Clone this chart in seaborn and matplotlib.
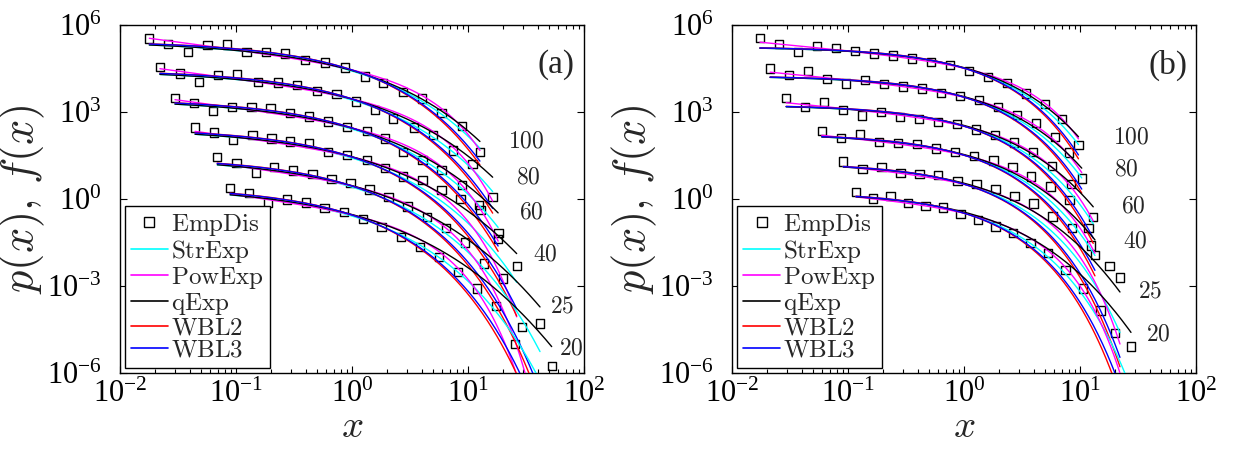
import numpy as np
import pandas as pd
import seaborn as sns
import matplotlib
matplotlib.use("Agg")
import matplotlib.pyplot as plt
from matplotlib.lines import Line2D
from matplotlib.ticker import LogLocator, NullLocator, NullFormatter

sns.set_theme(style="ticks")
plt.rcParams["font.family"] = ["Liberation Serif", "DejaVu Serif"]
plt.rcParams["mathtext.fontset"] = "stix"

# ---------------- data ----------------
series_labels = ["100", "80", "60", "40", "25", "20"]

# panel (a) empirical points
a100_x = [0.0179, 0.0261, 0.0388, 0.0570, 0.0832, 0.1236, 0.1816, 0.264, 0.394, 0.585, 0.871, 1.294, 1.862, 2.754, 3.99, 5.93, 8.83, 12.68]
a100_y = [3.47e5, 2.19e5, 1.15e5, 2.04e5, 2.14e5, 1.20e5, 1.15e5, 1.05e5, 6.17e4, 5.13e4, 3.39e4, 1.66e4, 9.77e3, 5.01e3, 2.95e3, 912, 331, 42.7]
a80_x = [0.0221, 0.0329, 0.0483, 0.0703, 0.1026, 0.1556, 0.231, 0.337, 0.501, 0.736, 1.081, 1.578, 2.27, 3.44, 5.02, 7.46, 10.96, 16.33]
a80_y = [3.63e4, 2.14e4, 1.10e4, 1.91e4, 2.04e4, 1.10e4, 1.05e4, 8.51e3, 5.25e3, 4.17e3, 2.29e3, 1.17e3, 603, 295, 162, 46.8, 16.2, 1.20]
a60_x = [0.0298, 0.0437, 0.0637, 0.0929, 0.1365, 0.199, 0.292, 0.426, 0.625, 0.912, 1.34, 1.92, 2.77, 4.06, 5.93, 8.83, 12.5, 18.2]
a60_y = [3.09e3, 2.09e3, 1.10e3, 1.51e3, 1.51e3, 1.35e3, 912, 692, 468, 309, 219, 123, 42.7, 21.9, 10.0, 3.02, 0.617, 0.0407]
a40_x = [0.0444, 0.0650, 0.0948, 0.1384, 0.203, 0.292, 0.429, 0.625, 0.912, 1.34, 1.92, 2.77, 4.06, 5.93, 8.6, 12.8, 18.3, 26.3]
a40_y = [295, 195, 107, 162, 123, 95.5, 83.2, 42.7, 33.1, 21.9, 11.5, 6.0, 4.57, 2.04, 0.977, 0.417, 6.9e-2, 5.0e-3]
a25_x = [0.069, 0.101, 0.148, 0.214, 0.312, 0.456, 0.666, 0.97, 1.42, 2.07, 3.02, 4.41, 6.44, 9.4, 13.7, 20.0, 29.2, 41.8]
a25_y = [27.5, 17.0, 8.3, 12.9, 9.5, 7.1, 4.8, 3.5, 2.1, 1.2, 0.55, 0.24, 0.1, 3.2e-2, 6.0e-3, 1.8e-3, 3.8e-5, 5.1e-5]
a20_x = [0.089, 0.129, 0.19, 0.275, 0.40, 0.58, 0.85, 1.24, 1.80, 2.63, 3.85, 5.6, 8.2, 12.0, 17.4, 25.4, 52.7]
a20_y = [2.45, 1.58, 0.75, 0.95, 0.75, 0.48, 0.36, 0.20, 0.11, 0.05, 2.2e-2, 1.0e-2, 3.1e-3, 8.3e-4, 2.0e-4, 1.0e-5, 1.7e-6]

# panel (b) empirical points
b100_x = [0.0174, 0.0254, 0.037, 0.054, 0.079, 0.115, 0.168, 0.245, 0.357, 0.52, 0.76, 1.11, 1.62, 2.36, 3.44, 5.02, 7.0, 9.7]
b100_y = [3.5e5, 2.2e5, 1.2e5, 1.9e5, 1.6e5, 1.3e5, 1.05e5, 9.0e4, 7.0e4, 5.2e4, 4.1e4, 2.6e4, 1.6e4, 1.0e4, 4.4e3, 1.9e3, 570, 72]
b80_x = [0.0213, 0.031, 0.045, 0.066, 0.096, 0.14, 0.204, 0.297, 0.434, 0.632, 0.92, 1.34, 1.96, 2.85, 4.16, 6.06, 8.0, 10.35]
b80_y = [3.2e4, 1.9e4, 2.6e4, 1.4e4, 9.5e3, 1.3e4, 9.0e3, 7.5e3, 6.5e3, 4.6e3, 3.5e3, 2.6e3, 1.45e3, 800, 420, 140, 40, 5.1]
b60_x = [0.0293, 0.0427, 0.062, 0.091, 0.132, 0.193, 0.281, 0.41, 0.6, 0.87, 1.27, 1.86, 2.71, 3.95, 5.76, 8.4, 13.0]
b60_y = [3.1e3, 1.5e3, 2.2e3, 1.2e3, 760, 1.0e3, 660, 560, 450, 380, 250, 160, 88, 42, 14, 3.3, 0.245]
b40_x = [0.0594, 0.087, 0.127, 0.185, 0.27, 0.394, 0.575, 0.84, 1.22, 1.79, 2.61, 3.8, 5.55, 8.1, 11.8, 13.45]
b40_y = [219, 130, 170, 92, 85, 78, 55, 42, 30, 21, 12.5, 6.0, 2.7, 0.9, 0.1, 1.2e-2]
b25_x = [0.091, 0.133, 0.194, 0.283, 0.413, 0.6, 0.88, 1.28, 1.87, 2.73, 3.98, 5.81, 8.5, 12.4, 18.0, 22.1]
b25_y = [19.5, 11.0, 13.0, 8.0, 7.2, 6.6, 4.2, 3.3, 2.2, 1.3, 0.7, 0.25, 0.1, 2.5e-2, 5e-3, 1.95e-3]
b20_x = [0.117, 0.165, 0.232, 0.329, 0.466, 0.660, 0.935, 1.32, 1.87, 2.65, 3.75, 5.31, 7.5, 10.6, 15.0, 20.0, 27.5]
b20_y = [1.78, 1.05, 1.29, 0.74, 0.58, 0.51, 0.30, 0.19, 0.112, 0.066, 0.030, 0.0135, 3.55e-3, 8.3e-4, 1.41e-4, 2.45e-5, 8.1e-6]

# fitted-model parameters (log10 amplitude of each series, and shape parameters)
a_offset = [5.45, 4.45, 3.45, 2.45, 1.45, 0.45]
a_qeps = [0.016, 0.029, 0.026, 0.040, 0.042, 0.046]
b_offset = [5.25, 4.25, 3.25, 2.25, 1.25, 0.25]
b_qeps = [0.023, 0.027, 0.037, 0.032, 0.051, 0.057]
a_strexp = [0.175, 0.50]     # x0, c
a_wbl2 = [0.233, 0.572]
a_wbl3 = [0.226, 0.560]
a_powexp = [0.519, 2.30, -0.811]  # gamma, x0, amplitude shift
b_strexp = [0.455, 0.67]
b_wbl2 = [0.482, 0.728]
b_wbl3 = [0.475, 0.713]
b_powexp = [0.378, 1.832, -0.503]

label_pos_a = [(32.1, 94.6), (32.9, 5.30), (35.4, 0.321), (46.1, 0.0117), (65.5, 1.95e-4), (78.3, 6.6e-6)]
label_pos_b = [(27.9, 124), (25.3, 10.0), (28.6, 0.542), (29.8, 0.0339), (40.1, 6.3e-4), (47.0, 2.0e-5)]

colors = {"StrExp": "#00FFFF", "PowExp": "#FF00FF", "qExp": "#000000", "WBL2": "#FF0000", "WBL3": "#0000FF"}


def strexp(x, off, x0, c):
    return 10 ** off * np.exp(-(x / x0) ** c)


def powexp(x, off, g, x0):
    return 10 ** off * x ** (-g) * np.exp(-x / x0)


def qexp(x, off, x0, c, eps):
    return 10 ** off * (1 + eps * (x / x0) ** c) ** (-1.0 / eps)


def draw_panel(ax, xs, ys, offsets, qeps, pstr, pw2, pw3, ppow, label_pos, tag):
    ax.set_xscale("log")
    ax.set_yscale("log")
    for i, (x, y) in enumerate(zip(xs, ys)):
        sns.scatterplot(x=x, y=y, ax=ax, marker="s", s=36, facecolor="none",
                        edgecolor="black", linewidth=1.0, zorder=2, legend=False)
        xx = np.logspace(np.log10(x[0]), np.log10(x[-1]), 300)
        off = offsets[i]
        curves = [
            ("StrExp", strexp(xx, off, *pstr)),
            ("PowExp", powexp(xx, off + ppow[2], ppow[0], ppow[1])),
            ("qExp", qexp(xx, off, pstr[0], pstr[1], qeps[i])),
            ("WBL2", strexp(xx, off, *pw2)),
            ("WBL3", strexp(xx, off, *pw3)),
        ]
        for name, yy in curves:
            df = pd.DataFrame({"x": xx, "y": yy})
            df = df[df.y > 1e-9]
            sns.lineplot(data=df, x="x", y="y", ax=ax, color=colors[name], lw=1.0,
                         estimator=None, sort=False, zorder=3)
        lx, ly = label_pos[i]
        ax.text(lx, ly, r"$\mathrm{%s}$" % series_labels[i], fontsize=17, ha="center",
                va="center", math_fontfamily="cm")
    ax.set_xlim(1e-2, 1e2)
    ax.set_ylim(1e-6, 1e6)
    ax.xaxis.set_major_locator(LogLocator(base=10, numticks=10))
    ax.xaxis.set_minor_locator(LogLocator(base=10, subs=np.arange(2, 10), numticks=20))
    ax.xaxis.set_minor_formatter(NullFormatter())
    ax.set_yticks([1e-6, 1e-3, 1e0, 1e3, 1e6])
    ax.yaxis.set_minor_locator(NullLocator())
    ax.tick_params(which="both", direction="in", top=True, right=True, labelsize=22,
                   width=0.8, colors="black")
    ax.tick_params(which="major", length=5)
    ax.tick_params(axis="x", which="major", pad=5)
    ax.tick_params(axis="y", which="major", pad=13)
    ax.tick_params(which="minor", length=3)
    for s in ax.spines.values():
        s.set_linewidth(1.0)
        s.set_color("black")
    ax.set_xlabel(r"$x$", fontsize=28, math_fontfamily="cm", labelpad=0)
    ax.set_ylabel(r"$p(x),\,f(x)$", fontsize=32, math_fontfamily="cm", labelpad=0)
    ax.text(0.94, 0.885, tag, transform=ax.transAxes, fontsize=24, ha="center", va="center")
    handles = [Line2D([], [], marker="s", ls="none", mfc="none", mec="black", ms=6.5, mew=1.0)]
    names = ["EmpDis", "StrExp", "PowExp", "qExp", "WBL2", "WBL3"]
    for n in names[1:]:
        handles.append(Line2D([], [], color=colors[n], lw=1.2))
    leg = ax.legend(handles, [r"$\mathrm{%s}$" % n for n in names], loc="lower left",
                    bbox_to_anchor=(0.011, 0.014), borderaxespad=0, fontsize=18,
                    frameon=True, fancybox=False, framealpha=1, edgecolor="black",
                    handlelength=1.45, handletextpad=0.15, labelspacing=0.0,
                    borderpad=0.25)
    leg.get_frame().set_linewidth(1.0)
    for t in leg.get_texts():
        t.set_math_fontfamily("cm")


fig = plt.figure(figsize=(12.33, 4.49), dpi=100)
axA = fig.add_axes([0.0973, 0.1693, 0.3763, 0.775])
axB = fig.add_axes([0.5937, 0.1693, 0.3763, 0.775])

draw_panel(axA, [a100_x, a80_x, a60_x, a40_x, a25_x, a20_x],
           [a100_y, a80_y, a60_y, a40_y, a25_y, a20_y],
           a_offset, a_qeps, a_strexp, a_wbl2, a_wbl3, a_powexp, label_pos_a, "(a)")
draw_panel(axB, [b100_x, b80_x, b60_x, b40_x, b25_x, b20_x],
           [b100_y, b80_y, b60_y, b40_y, b25_y, b20_y],
           b_offset, b_qeps, b_strexp, b_wbl2, b_wbl3, b_powexp, label_pos_b, "(b)")

fig.savefig("out.png", dpi=100)
